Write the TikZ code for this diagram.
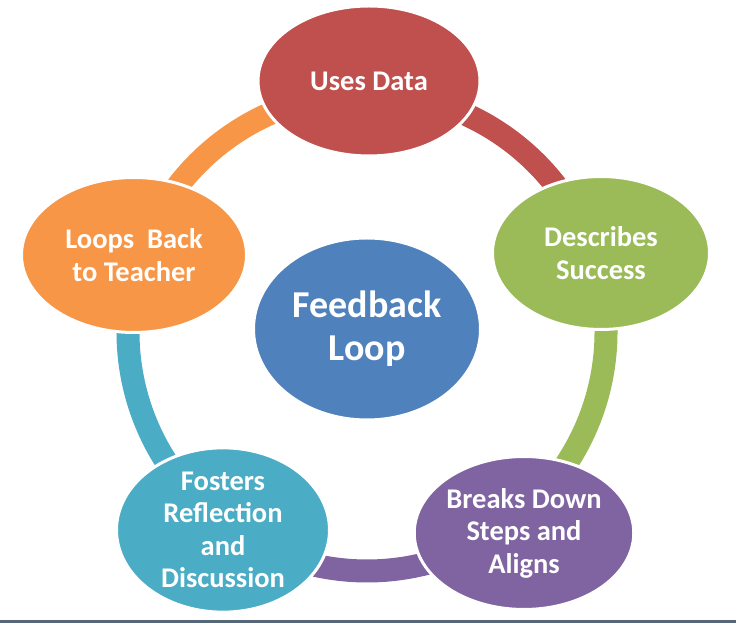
\documentclass[tikz,border=0pt]{standalone}
\usepackage{fontspec}
\setmainfont{Carlito}
\usetikzlibrary{shapes.geometric}
\definecolor{cRed}{HTML}{C0504D}
\definecolor{cGreen}{HTML}{9BBB59}
\definecolor{cPurple}{HTML}{8064A2}
\definecolor{cTeal}{HTML}{4BACC6}
\definecolor{cOrange}{HTML}{F79646}
\definecolor{cBlue}{HTML}{4F81BD}
\definecolor{cBar}{HTML}{56677A}
\begin{document}
\begin{tikzpicture}[x=1pt,y=1pt,
  blob/.style={ellipse, draw=white, line width=3pt, inner sep=0pt, text=white,
    align=center, font=\fontsize{28.5}{32.5}\selectfont\bfseries},
  ringseg/.style={line width=23pt}]
\useasboundingbox (0,0) rectangle (736,623);
\fill[white] (0,0) rectangle (736,623);
\fill[cBar] (0,0) rectangle (736,2.5);
\coordinate (ring) at (367,291);
% ring segments
\draw[ringseg, cRed]    ([shift={(90:239)}]ring)  arc[start angle=90,  end angle=18,   radius=239];
\draw[ringseg, cGreen]  ([shift={(18:239)}]ring)  arc[start angle=18,  end angle=-54,  radius=239];
\draw[ringseg, cPurple] ([shift={(-54:239)}]ring) arc[start angle=-54, end angle=-126, radius=239];
\draw[ringseg, cTeal]   ([shift={(-126:239)}]ring) arc[start angle=-126, end angle=-198, radius=239];
\draw[ringseg, cOrange] ([shift={(162:239)}]ring) arc[start angle=162, end angle=90,   radius=239];
% nodes
\node[blob, fill=cRed,    minimum width=222pt, minimum height=150pt] (uses)  at (369,542) {Uses Data};
\node[blob, fill=cGreen,  minimum width=217pt, minimum height=153pt] (desc)  at (601,370) {Describes\\Success};
\node[blob, fill=cPurple, minimum width=218pt, minimum height=153pt] (breaks) at (524,90) {Breaks Down\\Steps and\\Aligns};
\node[blob, fill=cTeal,   minimum width=213pt, minimum height=154pt] (fost)  at (223,93) {Fosters\\Reflection\\and\\Discussion};
\node[blob, fill=cOrange, minimum width=225pt, minimum height=155pt] (loops) at (134,368) {Loops\ \ Back\\to Teacher};
\node[blob, fill=cBlue,   minimum width=227pt, minimum height=182pt,
      font=\fontsize{38}{43}\selectfont\bfseries] (center) at (367,294) {Feedback\\Loop};
\end{tikzpicture}
\end{document}
